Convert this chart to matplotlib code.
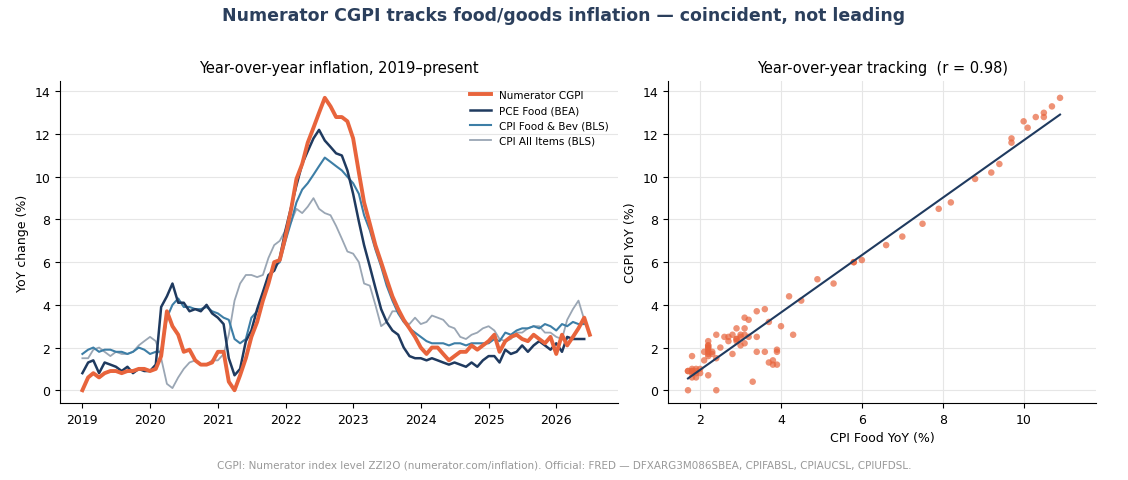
import numpy as np
import pandas as pd
import matplotlib
matplotlib.use("Agg")
import matplotlib.pyplot as plt

cgpi = [0, 0.6, 0.8, 0.6, 0.8, 0.9, 0.9, 0.8, 0.9, 0.9, 1.0, 1.0,
        0.9, 1.0, 1.6, 3.7, 3.0, 2.6, 1.8, 1.9, 1.4, 1.2, 1.2, 1.3,
        1.8, 1.8, 0.4, 0.0, 0.7, 1.5, 2.5, 3.2, 4.2, 5.0, 6.0, 6.1,
        7.2, 8.5, 9.9, 10.6, 11.6, 12.3, 13.0, 13.7, 13.3, 12.8, 12.8, 12.6,
        11.8, 10.2, 8.8, 7.8, 6.8, 6.0, 5.2, 4.4, 3.8, 3.3, 2.9, 2.5,
        2.0, 1.7, 2.0, 2.0, 1.7, 1.4, 1.6, 1.8, 1.8, 2.1, 1.9, 2.1,
        2.3, 2.6, 1.8, 2.3, 2.5, 2.6, 2.4, 2.3, 2.6, 2.4, 2.2, 2.5,
        1.7, 2.6, 2.1, 2.5, 2.9, 3.4, 2.6]
pce_food = [0.8, 1.3, 1.4, 0.8, 1.3, 1.2, 1.1, 0.9, 1.1, 0.8, 1.0, 0.9,
            0.9, 1.2, 3.9, 4.4, 5.0, 4.1, 4.1, 3.7, 3.8, 3.7, 4.0, 3.6,
            3.4, 3.1, 1.5, 0.7, 1.0, 2.3, 2.8, 3.8, 4.6, 5.4, 5.6, 6.2,
            7.5, 8.6, 9.6, 10.6, 11.2, 11.8, 12.2, 11.7, 11.4, 11.1, 11.0, 10.3,
            9.2, 7.9, 6.8, 5.8, 4.8, 3.8, 3.2, 2.8, 2.6, 2.0, 1.6, 1.5,
            1.5, 1.4, 1.5, 1.4, 1.3, 1.2, 1.3, 1.2, 1.1, 1.3, 1.1, 1.4,
            1.6, 1.6, 1.3, 1.9, 1.7, 1.8, 2.1, 1.8, 2.1, 2.3, 2.1, 1.9,
            2.2, 1.8, 2.5, 2.4, 2.4, 2.4]
cpi_food = [1.7, 1.9, 2.0, 1.8, 1.9, 1.9, 1.8, 1.8, 1.7, 1.8, 2.0, 1.9,
            1.7, 1.8, 1.8, 3.4, 4.0, 4.3, 3.9, 3.9, 3.8, 3.8, 3.9, 3.7,
            3.6, 3.4, 3.3, 2.4, 2.2, 2.4, 3.4, 3.7, 4.5, 5.3, 5.8, 6.0,
            7.0, 7.9, 8.8, 9.4, 9.7, 10.1, 10.5, 10.9, 10.7, 10.5, 10.3, 10.0,
            9.7, 9.2, 8.2, 7.5, 6.6, 5.8, 4.9, 4.2, 3.6, 3.2, 2.9, 2.7,
            2.5, 2.3, 2.2, 2.2, 2.2, 2.1, 2.2, 2.2, 2.1, 2.2, 2.2, 2.2,
            2.2, 2.4, 2.3, 2.7, 2.6, 2.8, 2.9, 2.9, 3.0, 2.9, 3.1, 3.0,
            2.8, 3.1, 3.0, 3.2, 3.1, 3.1]
cpi_all = [1.5, 1.5, 1.9, 2.0, 1.8, 1.6, 1.8, 1.7, 1.7, 1.8, 2.1, 2.3,
           2.5, 2.3, 1.5, 0.3, 0.1, 0.6, 1.0, 1.3, 1.4, 1.2, 1.2, 1.4,
           1.4, 1.7, 2.6, 4.2, 5.0, 5.4, 5.4, 5.3, 5.4, 6.2, 6.8, 7.0,
           7.5, 7.9, 8.5, 8.3, 8.6, 9.0, 8.5, 8.3, 8.2, 7.7, 7.1, 6.5,
           6.4, 6.0, 5.0, 4.9, 4.0, 3.0, 3.2, 3.7, 3.7, 3.2, 3.1, 3.4,
           3.1, 3.2, 3.5, 3.4, 3.3, 3.0, 2.9, 2.5, 2.4, 2.6, 2.7, 2.9,
           3.0, 2.8, 2.4, 2.3, 2.4, 2.7, 2.7, 2.9, 3.0, 3.0, 2.7, 2.7,
           2.5, 2.4, 3.3, 3.8, 4.2, 3.3]

dates = pd.date_range("2019-01-01", periods=len(cgpi), freq="MS")
d_other = dates[:len(pce_food)]

C_ORANGE = "#e8643c"
C_NAVY = "#1f3a5f"
C_BLUE = "#3d7ea6"
C_GREY = "#9aa6b4"

fig = plt.figure(figsize=(11.28, 4.81), dpi=100)
ax1 = fig.add_axes([0.053, 0.16, 0.495, 0.67])
ax2 = fig.add_axes([0.592, 0.16, 0.38, 0.67])

ax1.plot(dates, cgpi, color=C_ORANGE, lw=2.8, label="Numerator CGPI", zorder=5)
ax1.plot(d_other, pce_food, color=C_NAVY, lw=1.8, label="PCE Food (BEA)", zorder=4)
ax1.plot(d_other, cpi_food, color=C_BLUE, lw=1.5, label="CPI Food & Bev (BLS)", zorder=3)
ax1.plot(d_other, cpi_all, color=C_GREY, lw=1.3, label="CPI All Items (BLS)", zorder=2)
ax1.set_title("Year-over-year inflation, 2019–present", fontsize=10.5)
ax1.set_ylabel("YoY change (%)", fontsize=9)
ax1.set_ylim(-0.6, 14.5)
ax1.set_yticks(range(0, 15, 2))
ax1.set_xlim(pd.Timestamp("2018-09-01"), pd.Timestamp("2026-12-01"))
ax1.set_xticks([pd.Timestamp(f"{y}-01-01") for y in range(2019, 2027)])
ax1.set_xticklabels([str(y) for y in range(2019, 2027)])
ax1.grid(axis="y", color="#e6e6e6", lw=0.8)
ax1.legend(loc="upper right", fontsize=7.5, frameon=False)

x = np.array(cpi_food)
y = np.array(cgpi[:len(cpi_food)])
ax2.scatter(x, y, s=22, color=C_ORANGE, alpha=0.7, edgecolor="none", zorder=3)
m, b = np.polyfit(x, y, 1)
xs = np.array([x.min(), x.max()])
ax2.plot(xs, m * xs + b, color=C_NAVY, lw=1.5, zorder=4)
r = np.corrcoef(x, y)[0, 1]
ax2.set_title(f"Year-over-year tracking  (r = {r:.2f})", fontsize=10.5)
ax2.set_xlabel("CPI Food YoY (%)", fontsize=9)
ax2.set_ylabel("CGPI YoY (%)", fontsize=9)
ax2.set_ylim(-0.6, 14.5)
ax2.set_yticks(range(0, 15, 2))
ax2.set_xlim(1.2, 11.8)
ax2.set_xticks([2, 4, 6, 8, 10])
ax2.grid(color="#e6e6e6", lw=0.8)

for ax in (ax1, ax2):
    ax.spines["top"].set_visible(False)
    ax.spines["right"].set_visible(False)
    ax.tick_params(labelsize=9)
    ax.set_axisbelow(True)

fig.suptitle("Numerator CGPI tracks food/goods inflation — coincident, not leading",
             fontsize=12.5, fontweight="bold", color="#2b3f5c", y=0.985)
fig.text(0.5, 0.025, "CGPI: Numerator index level ZZI2O (numerator.com/inflation). Official: FRED — "
         "DFXARG3M086SBEA, CPIFABSL, CPIAUCSL, CPIUFDSL.", ha="center", fontsize=7.5, color="#999999")
fig.savefig("out.png", dpi=100)
